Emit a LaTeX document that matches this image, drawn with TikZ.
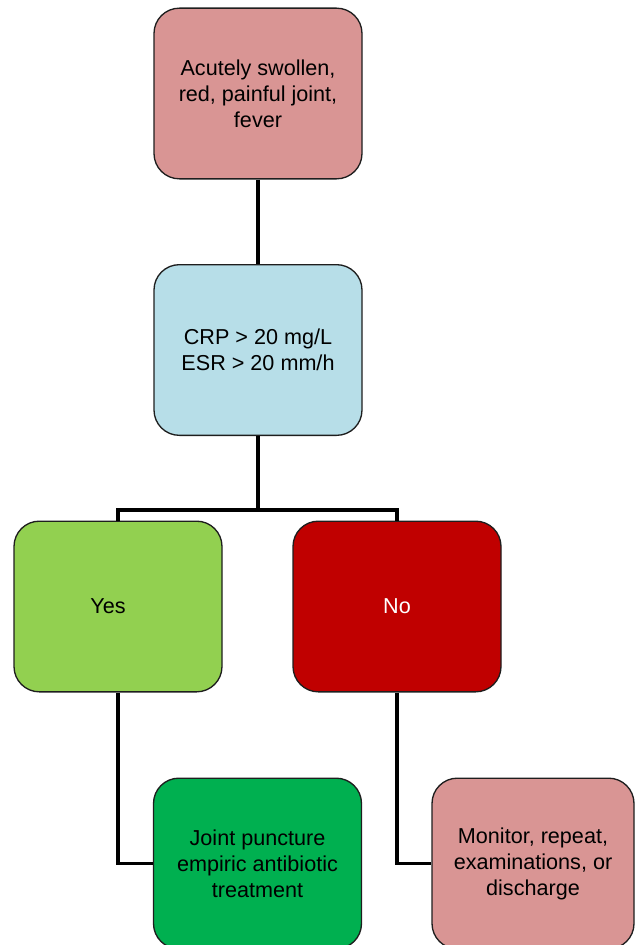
\documentclass[tikz,border=0pt]{standalone}
\usepackage{fontspec}
\setmainfont{Liberation Sans}
\usepackage{tikz}
\usetikzlibrary{arrows.meta}
\usetikzlibrary{shapes.misc}
\definecolor{rosebox}{HTML}{D99594}
\definecolor{icebox}{HTML}{B7DEE8}
\definecolor{limebox}{HTML}{92D050}
\definecolor{crimsonbox}{HTML}{C00000}
\definecolor{emeraldbox}{HTML}{00B050}
\definecolor{rimgray}{HTML}{1E1E1E}

\begin{document}
\begin{tikzpicture}[x=0.75pt, y=-0.75pt,
        box/.style={draw=rimgray, line width=1pt, rounded corners=19pt, minimum width=156pt, minimum height=128pt, align=center, font=\fontsize{16.2}{19.5}\selectfont},
        link/.style={draw=black, line width=2.6pt}]
        \useasboundingbox (0,0) rectangle (635,945);
        \clip (0,0) rectangle (635,945);
        \node[box, fill=rosebox] (symptoms) at (258,93.5) {Acutely swollen,\\red, painful joint,\\fever};
        \node[box, fill=icebox] (markers) at (258,350) {CRP > 20 mg/L\\ESR > 20 mm/h};
        \node[box, fill=limebox] (yes) at (118,606.5) {Yes\hspace*{15pt}};
        \node[box, fill=crimsonbox, text=white] (no) at (397,606.5) {No};
        \node[box, fill=emeraldbox] (puncture) at (257.5,863.5) {Joint puncture\\empiric antibiotic\\treatment};
        \node[box, fill=rosebox, minimum width=151.5pt] (monitor) at (533,863.5) {Monitor, repeat,\\examinations, or\\discharge};
        \draw[link] (symptoms) -- (markers);
        \draw[link] (markers.south) -- ++(0,74) coordinate (split);
        \draw[link] (yes.north) |- (split) -| (no.north);
        \draw[link] (yes.south) |- (puncture.west);
        \draw[link] (no.south) |- (monitor.west);
    \end{tikzpicture}
\end{document}
